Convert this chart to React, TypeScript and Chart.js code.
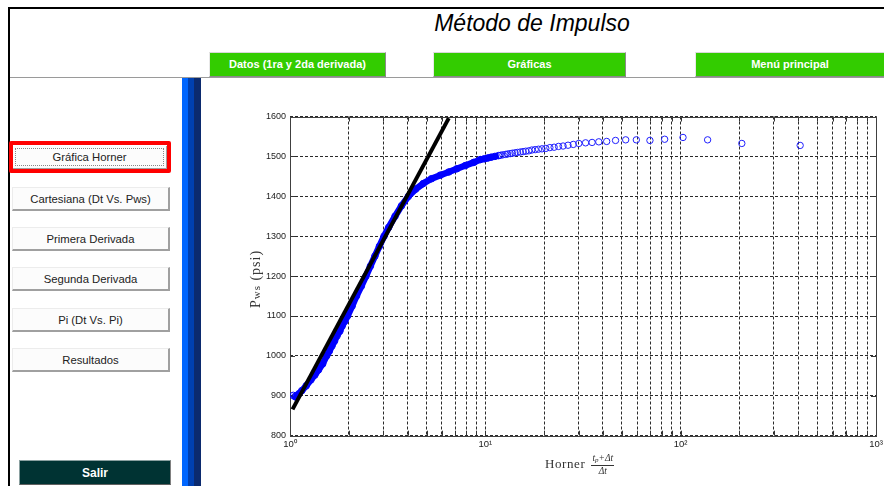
import React, { useEffect, useRef } from "react";
import { Chart, registerables } from "chart.js";

Chart.register(...registerables);

// ---- data ----
const denseX = [1.04, 1.06, 1.08, 1.11, 1.15, 1.21, 1.28, 1.34, 1.40, 1.47, 1.54, 1.59, 1.64, 1.69, 1.74, 1.80, 1.85, 1.91, 1.97, 2.08, 2.19, 2.32, 2.45, 2.58, 2.72, 2.87, 3.03, 3.20, 3.45, 3.72, 4.04, 4.40, 4.81, 5.30, 5.88, 6.50, 7.15, 7.90, 8.72, 9.42, 9.9, 10.3, 10.7, 11.2, 11.7];
const denseY = [901, 898, 900, 905, 913, 925, 940, 952, 965, 980, 1000, 1012, 1025, 1037, 1050, 1062, 1075, 1087, 1100, 1125, 1150, 1175, 1200, 1225, 1250, 1275, 1300, 1322, 1350, 1376, 1400, 1418, 1432, 1444, 1453, 1461, 1469, 1477, 1485, 1492, 1494, 1496, 1498, 1500, 1502];

const sparseX = [12.0, 12.3, 12.7, 13.0, 13.4, 13.75, 14.2, 14.6, 15.1, 15.6, 16.1, 16.7, 17.3, 18.0, 18.7, 19.5, 20.4, 21.4, 22.5, 23.7, 25.0, 26.5, 28.2, 30.1, 32.6, 35.2, 38.1, 41.8, 46.4, 52.3, 59.3, 69.6, 82.8, 102.8, 137.4, 205.6, 409];
const sparseY = [1503, 1504, 1505, 1506, 1507, 1508, 1509, 1510, 1511, 1512, 1513, 1514, 1516, 1517, 1518, 1519, 1520, 1522, 1523, 1525, 1526, 1528, 1530, 1532.5, 1534, 1535, 1536.5, 1537.5, 1540, 1541.5, 1541.5, 1540, 1543, 1547.5, 1541.5, 1532.5, 1527.5];

const fitLineX = [1.03, 6.5];
const fitLineY = [866, 1596];

const xTickValues = [1, 2, 3, 4, 5, 6, 7, 8, 9, 10, 20, 30, 40, 50, 60, 70, 80, 90, 100, 200, 300, 400, 500, 600, 700, 800, 900, 1000];
const xMajorLabels: Record<number, string> = { 1: "10\u2070", 10: "10\u00b9", 100: "10\u00b2", 1000: "10\u00b3" };
const yTickValues = [800, 900, 1000, 1100, 1200, 1300, 1400, 1500, 1600];

const sideButtons = ["Cartesiana (Dt Vs. Pws)", "Primera Derivada", "Segunda Derivada", "Pi (Dt Vs. Pi)", "Resultados"];
const sideButtonTops = [187, 227, 267, 308, 348];
const topButtons = ["Datos (1ra y 2da derivada)", "Gráficas", "Menú principal"];
const topButtonLefts = [209, 433, 695];
const topButtonWidths = [177, 193, 190];

const boxPlugin = {
  id: "matlabBox",
  beforeDatasetsDraw(chart: any) {
    const { ctx, chartArea: a, scales } = chart;
    ctx.save();
    ctx.setLineDash([]);
    ctx.strokeStyle = "#333";
    ctx.lineWidth = 1;
    ctx.beginPath();
    xTickValues.forEach((v) => {
      const px = Math.round(scales.x.getPixelForValue(v)) + 0.5;
      ctx.moveTo(px, a.bottom);
      ctx.lineTo(px, a.bottom - 5);
      ctx.moveTo(px, a.top);
      ctx.lineTo(px, a.top + 5);
    });
    yTickValues.forEach((v) => {
      const py = Math.round(scales.y.getPixelForValue(v)) + 0.5;
      ctx.moveTo(a.left, py);
      ctx.lineTo(a.left + 5, py);
      ctx.moveTo(a.right, py);
      ctx.lineTo(a.right - 5, py);
    });
    ctx.stroke();
    ctx.strokeStyle = "#404040";
    ctx.strokeRect(Math.round(a.left) + 0.5, Math.round(a.top) + 0.5, Math.round(a.right - a.left), Math.round(a.bottom - a.top));
    ctx.restore();
  },
};

const CANVAS_W = 684;
const CANVAS_H = 396;

function GraphCanvas() {
  const ref = useRef<HTMLCanvasElement>(null);
  useEffect(() => {
    const canvas = ref.current!;
    const chart = new Chart(canvas, {
      type: "scatter",
      data: {
        datasets: [
          {
            label: "Recta",
            data: fitLineX.map((x, i) => ({ x, y: fitLineY[i] })),
            showLine: true,
            borderColor: "#000",
            borderWidth: 4,
            pointRadius: 0,
            order: 0,
          },
          {
            label: "Pws",
            data: denseX.map((x, i) => ({ x, y: denseY[i] })),
            showLine: true,
            borderColor: "#0000ff",
            borderWidth: 6.5,
            pointRadius: 3.3,
            pointBorderWidth: 1,
            pointBorderColor: "#0000ff",
            pointBackgroundColor: "rgba(0,0,0,0)",
            order: 1,
          },
          {
            label: "Pws tardío",
            data: sparseX.map((x, i) => ({ x, y: sparseY[i] })),
            showLine: false,
            pointRadius: 3.2,
            pointBorderWidth: 1,
            pointBorderColor: "#1f1fff",
            pointBackgroundColor: "rgba(0,0,0,0)",
            order: 2,
          },
        ] as any,
      },
      options: {
        animation: false,
        responsive: false,
        maintainAspectRatio: false,
        devicePixelRatio: 1,
        layout: { padding: { left: 0, top: 26.5, right: 8, bottom: 0 } },
        plugins: { legend: { display: false }, tooltip: { enabled: false } },
        scales: {
          x: {
            type: "logarithmic",
            min: 1,
            max: 1000,
            afterBuildTicks: (scale: any) => {
              scale.ticks = xTickValues.map((v) => ({ value: v }));
            },
            afterFit: (scale: any) => {
              scale.height = 50.3;
              scale.paddingLeft = 0;
              scale.paddingRight = 0;
            },
            ticks: {
              autoSkip: false,
              maxRotation: 0,
              minRotation: 0,
              padding: 3,
              color: "#1a1a1a",
              font: { family: "Arial, 'Liberation Sans', sans-serif", size: 9.5 },
              callback: (v: any) => xMajorLabels[Number(v)] ?? "",
            },
            grid: { color: "#2a2a2a", lineWidth: 1, drawTicks: false },
            border: { display: false, dash: [3, 2] },
          },
          y: {
            type: "linear",
            min: 800,
            max: 1600,
            afterBuildTicks: (scale: any) => {
              scale.ticks = yTickValues.map((v) => ({ value: v }));
            },
            afterFit: (scale: any) => {
              scale.width = 90;
              scale.paddingTop = 0;
              scale.paddingBottom = 0;
            },
            ticks: {
              padding: 4,
              color: "#1a1a1a",
              font: { family: "Arial, 'Liberation Sans', sans-serif", size: 9 },
              callback: (v: any) => String(v),
            },
            grid: { color: "#2a2a2a", lineWidth: 1, drawTicks: false },
            border: { display: false, dash: [3, 2] },
          },
        },
      } as any,
      plugins: [boxPlugin],
    });
    return () => chart.destroy();
  }, []);
  return (
    <canvas
      ref={ref}
      width={CANVAS_W}
      height={CANVAS_H}
      style={{ position: "absolute", left: 200, top: 90, width: CANVAS_W, height: CANVAS_H }}
    />
  );
}

const sans = "Arial, 'Liberation Sans', Helvetica, sans-serif";
const serif = "'Liberation Serif', 'Times New Roman', serif";

export default function App() {
  return (
    <div
      style={{
        position: "fixed",
        left: 0,
        top: 0,
        width: 884,
        height: 486,
        overflow: "hidden",
        background: "#fff",
        fontFamily: sans,
      }}
    >
      {/* outer frame */}
      <div style={{ position: "absolute", left: 8, top: 7, width: 890, height: 490, borderTop: "2px solid #000", borderLeft: "2px solid #000" }} />
      {/* title */}
      <div style={{ position: "absolute", left: 332, top: 9, width: 400, textAlign: "center", fontSize: 23, fontStyle: "italic", color: "#000", lineHeight: "28px" }}>
        Método de Impulso
      </div>
      {/* top green buttons */}
      {topButtons.map((t, i) => (
        <div
          key={t}
          style={{
            position: "absolute",
            left: topButtonLefts[i],
            top: 52,
            width: topButtonWidths[i],
            height: 25,
            boxSizing: "border-box",
            background: "#33cc00",
            borderTop: "1px solid #d8d8d8",
            borderLeft: "1px solid #e8e8e8",
            borderRight: "1px solid #8a8a8a",
            borderBottom: "1px solid #8a8a8a",
            color: "#fff",
            fontWeight: "bold",
            fontSize: 11,
            display: "flex",
            alignItems: "center",
            justifyContent: "center",
            paddingBottom: 2,
          }}
        >
          {t}
        </div>
      ))}
      {/* separator line */}
      <div style={{ position: "absolute", left: 10, top: 77, width: 874, height: 1, background: "#9a9a9a" }} />
      {/* blue stripes */}
      <div style={{ position: "absolute", left: 182, top: 78, width: 6, height: 408, background: "#0066ff" }} />
      <div style={{ position: "absolute", left: 188, top: 78, width: 6, height: 408, background: "#0040b0" }} />
      <div style={{ position: "absolute", left: 194, top: 78, width: 7, height: 408, background: "#0b2a6e" }} />

      {/* active button with red highlight */}
      <div style={{ position: "absolute", left: 9, top: 141, width: 162, height: 32, boxSizing: "border-box", border: "4px solid #ff0000", borderRadius: 2 }} />
      <div
        style={{
          position: "absolute",
          left: 13,
          top: 146,
          width: 154,
          height: 23,
          boxSizing: "border-box",
          background: "#fcfcfc",
          borderRight: "1px solid #a0a0a0",
          borderBottom: "1px solid #a0a0a0",
          display: "flex",
          alignItems: "center",
          justifyContent: "center",
          fontSize: 11.3,
          color: "#222",
        }}
      >
        <div style={{ position: "absolute", left: 2, top: 2, right: 2, bottom: 2, border: "1px dotted #888" }} />
        Gráfica Horner
      </div>
      {/* side buttons */}
      {sideButtons.map((t, i) => (
        <div
          key={t}
          style={{
            position: "absolute",
            left: 12,
            top: sideButtonTops[i],
            width: 158,
            height: 24,
            boxSizing: "border-box",
            background: "#fcfcfc",
            borderTop: "1px solid #ececec",
            borderLeft: "1px solid #ececec",
            borderRight: "2px solid #a0a0a0",
            borderBottom: "2px solid #a0a0a0",
            display: "flex",
            alignItems: "center",
            justifyContent: "center",
            fontSize: 11.3,
            color: "#222",
          }}
        >
          {t}
        </div>
      ))}
      {/* exit button */}
      <div
        style={{
          position: "absolute",
          left: 19,
          top: 460,
          width: 152,
          height: 25,
          boxSizing: "border-box",
          background: "#003333",
          borderTop: "1px solid #8aa0a0",
          borderLeft: "1px solid #8aa0a0",
          borderRight: "1px solid #808080",
          borderBottom: "1px solid #606060",
          color: "#fff",
          fontWeight: "bold",
          fontSize: 12,
          display: "flex",
          alignItems: "center",
          justifyContent: "center",
        }}
      >
        Salir
      </div>

      <GraphCanvas />

      {/* y axis title */}
      <div
        style={{
          position: "absolute",
          left: 206,
          top: 270,
          width: 100,
          height: 18,
          textAlign: "center",
          transform: "rotate(-90deg)",
          transformOrigin: "50% 50%",
          fontFamily: serif,
          fontSize: 14,
          letterSpacing: 1,
          color: "#333",
          lineHeight: "18px",
          whiteSpace: "nowrap",
        }}
      >
        P<span style={{ fontSize: 11 }}>ws</span> (psi)
      </div>
      {/* x axis title */}
      <div
        style={{
          position: "absolute",
          left: 545,
          top: 451,
          height: 26,
          display: "flex",
          alignItems: "center",
          fontFamily: serif,
          color: "#333",
          whiteSpace: "nowrap",
        }}
      >
        <span style={{ fontSize: 13, letterSpacing: 0.6, marginRight: 6 }}>Horner</span>
        <span style={{ display: "inline-flex", flexDirection: "column", alignItems: "center", fontSize: 9.5, fontStyle: "italic", lineHeight: "10px" }}>
          <span style={{ borderBottom: "1px solid #333", padding: "0 1px" }}>
            t<sub style={{ fontSize: 7, verticalAlign: "-1px" }}>p</sub>+Δt
          </span>
          <span>Δt</span>
        </span>
      </div>
    </div>
  );
}
